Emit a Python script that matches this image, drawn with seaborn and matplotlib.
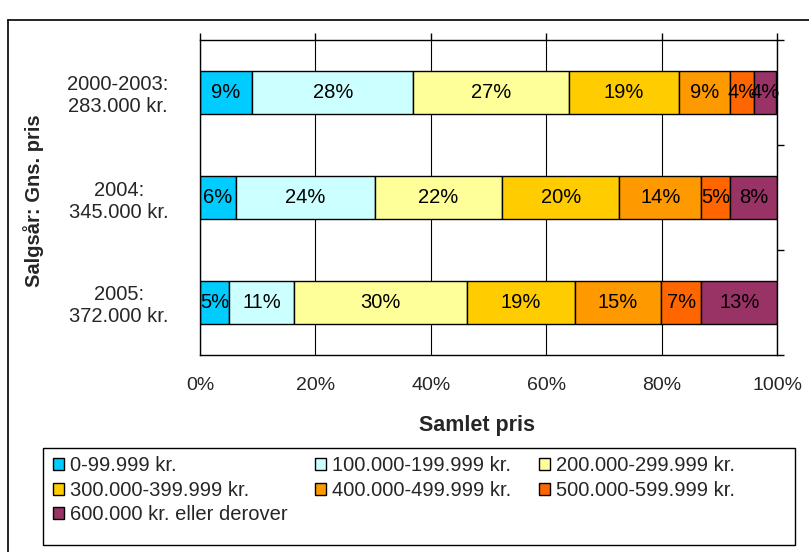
import numpy as np
import pandas as pd
import matplotlib
matplotlib.use('Agg')
import matplotlib.pyplot as plt
import seaborn as sns
from matplotlib.lines import Line2D
from matplotlib.patches import Patch, Rectangle

# data (share of sales per price bracket, %)
periods = ['2000-2003:\n283.000 kr.', '2004:\n345.000 kr.', '2005:\n372.000 kr.']
brackets = ['0-99.999 kr.', '100.000-199.999 kr.', '200.000-299.999 kr.',
            '300.000-399.999 kr.', '400.000-499.999 kr.', '500.000-599.999 kr.',
            '600.000 kr. eller derover']
colors = ['#00CCFF', '#CCFFFF', '#FFFF99', '#FFCC00', '#FF9900', '#FF6600', '#993366']

share_2000_2003 = [9.0, 28.0, 26.9, 19.1, 8.9, 4.1, 3.9]
share_2004 = [6.2, 24.1, 22.1, 20.3, 14.2, 5.0, 8.1]
share_2005 = [5.1, 11.2, 29.9, 18.8, 14.9, 7.0, 13.1]

xticks = [0, 20, 40, 60, 80, 100]

# long table with left offsets for stacking
rows = []
for period, shares in zip(periods, [share_2000_2003, share_2004, share_2005]):
    left = 0
    for bracket, s in zip(brackets, shares):
        rows.append({'period': period, 'bracket': bracket, 'share': s, 'left': left})
        left += s
df = pd.DataFrame(rows)

sns.set_style('white')
plt.rcParams['font.family'] = ['Liberation Sans', 'DejaVu Sans']

fig = plt.figure(figsize=(8.09, 5.52), dpi=100)
ax = fig.add_axes([200 / 809, 1 - 355 / 552, 577 / 809, 315 / 552])

for bracket, c in zip(brackets, colors):
    sub = df[df['bracket'] == bracket].set_index('period').loc[periods].reset_index()
    sns.barplot(data=sub, y='period', x='share', order=periods, orient='h',
                left=sub['left'].values, color=c, width=0.41, errorbar=None,
                edgecolor='black', linewidth=1, saturation=1, ax=ax)

for cont in ax.containers:
    vals = [p.get_width() for p in cont.patches]
    ax.bar_label(cont, labels=[f'{v:.0f}%' for v in vals], label_type='center',
                 fontsize=14.5, color='black')

ax.set_xlim(0, 100)
ax.set_ylim(2.5, -0.5)
ax.set_xticks(xticks)
ax.set_xticklabels([f'{t}%' for t in xticks])
ax.tick_params(axis='x', which='major', top=True, bottom=False, labeltop=False,
               labelbottom=True, direction='out', length=5, width=1, pad=11,
               labelsize=14, color='black')
ax.tick_params(axis='y', which='major', left=False, right=False, pad=19, labelsize=14.5)
ax.set_yticks(np.arange(-0.5, 3, 1), minor=True)
ax.tick_params(axis='y', which='minor', left=False, right=True, direction='out',
               length=5, width=1, color='black')
for lbl in ax.get_yticklabels():
    lbl.set_multialignment('center')

ax.grid(axis='x', color='black', linewidth=0.8)
ax.set_axisbelow(True)
for sp in ax.spines.values():
    sp.set_color('black')
    sp.set_linewidth(1)

ax.set_xlabel('Samlet pris', fontsize=15.5, fontweight='bold')
ax.xaxis.set_label_coords(0.48, -0.19)
ax.set_ylabel('Salgsår: Gns. pris', fontsize=14.5, fontweight='bold')
ax.yaxis.set_label_coords(-0.27, 0.49)

# legend, filled row by row like the original
order = [0, 3, 6, 1, 4, 2, 5]
handles = [Patch(facecolor=colors[i], edgecolor='black', linewidth=1) for i in order]
leg = fig.legend(handles, [brackets[i] for i in order], ncol=3, loc='upper left',
                 bbox_to_anchor=(45 / 809, 1 - 448 / 552), borderaxespad=0,
                 fontsize=14.5, frameon=False, handlelength=0.55, handleheight=0.55,
                 handletextpad=0.3, labelspacing=0.28, borderpad=0.4,
                 columnspacing=1.35)
fig.add_artist(Rectangle((43 / 809, 1 - 545 / 552), 752 / 809, 97 / 552,
                         transform=fig.transFigure, fill=False,
                         edgecolor='black', linewidth=1))

# outer chart frame
fig.add_artist(Line2D([8 / 809, 8 / 809], [0, 1 - 20 / 552], transform=fig.transFigure,
                      color='black', linewidth=1.2))
fig.add_artist(Line2D([8 / 809, 1], [1 - 20 / 552, 1 - 20 / 552], transform=fig.transFigure,
                      color='black', linewidth=1.2))

fig.savefig('out.png', dpi=100)
